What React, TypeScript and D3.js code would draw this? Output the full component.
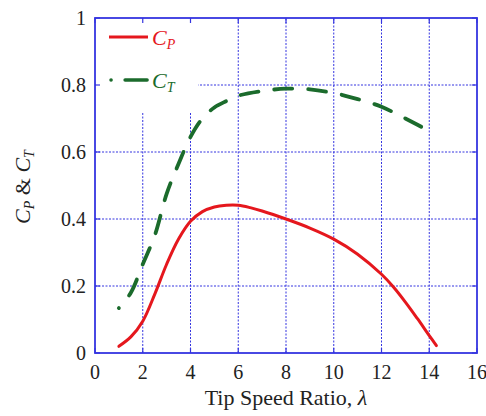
import React from "react";
import * as d3 from "d3";

const cpX = [1, 1.5, 2, 2.5, 3, 3.5, 4, 4.5, 5, 5.5, 6, 6.5, 7, 8, 9, 10, 11, 12, 12.5, 13, 13.5, 14, 14.3];
const cpY = [0.02, 0.048, 0.095, 0.175, 0.265, 0.34, 0.393, 0.422, 0.436, 0.441, 0.441, 0.434, 0.424, 0.4, 0.373, 0.34, 0.295, 0.235, 0.197, 0.152, 0.103, 0.052, 0.022];
const ctX = [1, 1.5, 2, 2.5, 3, 3.5, 4, 4.5, 5, 5.5, 6, 7, 8, 9, 10, 11, 12, 13, 14.2];
const ctY = [0.134, 0.18, 0.265, 0.35, 0.475, 0.565, 0.645, 0.7, 0.733, 0.752, 0.768, 0.782, 0.789, 0.787, 0.776, 0.758, 0.735, 0.7, 0.655];
const xTicks = [0, 2, 4, 6, 8, 10, 12, 14, 16];
const yTicks = [0, 0.2, 0.4, 0.6, 0.8, 1];
const yTickLabels = ["0", "0.2", "0.4", "0.6", "0.8", "1"];

const W = 486, H = 416;
const L = 95, R = 477, T = 18, B = 353;
const RED = "#e5171d";
const GREEN = "#1b6b2c";
const BLUE = "#3535e0";
const FONT = "Liberation Serif, serif";

export default function App() {
  const x = d3.scaleLinear().domain([0, 16]).range([L, R]);
  const y = d3.scaleLinear().domain([0, 1]).range([B, T]);
  const line = d3.line<[number, number]>().x(d => x(d[0])).y(d => y(d[1])).curve(d3.curveCatmullRom.alpha(0.5));
  const cp = cpX.map((v, i) => [v, cpY[i]] as [number, number]);
  const ct = ctX.map((v, i) => [v, ctY[i]] as [number, number]);
  const tick = 5;
  const txt = { fontFamily: FONT } as React.CSSProperties;
  return (
    <svg width={W} height={H} style={{ position: "absolute", left: 0, top: 0, background: "#fff", fontFamily: FONT }}>
      {xTicks.slice(1, -1).map(t => (
        <line key={"gx" + t} x1={x(t)} x2={x(t)} y1={y(0)} y2={y(1)} stroke={BLUE} strokeWidth={1} strokeDasharray="2,1.5" />
      ))}
      {yTicks.slice(1, -1).map(t => (
        <line key={"gy" + t} x1={x(0)} x2={x(16)} y1={y(t)} y2={y(t)} stroke={BLUE} strokeWidth={1} strokeDasharray="2,1.5" />
      ))}
      <rect x={L + 1} y={T + 1} width={102} height={93} fill="#fff" />
      {xTicks.map(t => (
        <g key={"tx" + t}>
          <line x1={x(t)} x2={x(t)} y1={B} y2={B - tick} stroke={BLUE} strokeWidth={1.2} />
          <line x1={x(t)} x2={x(t)} y1={T} y2={T + tick} stroke={BLUE} strokeWidth={1.2} />
          <text style={txt} x={x(t)} y={B + 26} fontSize={20} textAnchor="middle" fill="#222">{t}</text>
        </g>
      ))}
      {yTicks.map((t, i) => (
        <g key={"ty" + t}>
          <line x1={L} x2={L + tick} y1={y(t)} y2={y(t)} stroke={BLUE} strokeWidth={1.2} />
          <line x1={R} x2={R - tick} y1={y(t)} y2={y(t)} stroke={BLUE} strokeWidth={1.2} />
          <text style={txt} x={L - 9} y={y(t) + 7} fontSize={20} textAnchor="end" fill="#222">{yTickLabels[i]}</text>
        </g>
      ))}
      <rect x={L} y={T} width={R - L} height={B - T} fill="none" stroke={BLUE} strokeWidth={1.8} />
      <path d={line(cp) || ""} fill="none" stroke={RED} strokeWidth={3} strokeLinecap="round" />
      <path d={line(ct) || ""} fill="none" stroke={GREEN} strokeWidth={3.8} strokeLinecap="round" strokeDasharray="18,16" strokeDashoffset={17.9} />
      <line x1={109} x2={148} y1={37} y2={37} stroke={RED} strokeWidth={3} />
      <text style={txt} x={152} y={45} fill={RED} fontSize={22} fontStyle="italic">C<tspan fontSize={14} dy={4}>P</tspan></text>
      <line x1={111} x2={148} y1={80} y2={80} stroke={GREEN} strokeWidth={3.5} strokeLinecap="round" strokeDasharray="0.1,14,22,100" />
      <text style={txt} x={152} y={88} fill={GREEN} fontSize={22} fontStyle="italic">C<tspan fontSize={14} dy={4}>T</tspan></text>
      <text style={txt} x={(L + R) / 2} y={405} fontSize={22} textAnchor="middle" fill="#222">Tip Speed Ratio, <tspan fontStyle="italic">λ</tspan></text>
      <text style={txt} transform={`translate(30, 187) rotate(-90)`} fontSize={22} textAnchor="middle" fill="#222">
        <tspan fontStyle="italic">C</tspan><tspan fontSize={14} fontStyle="italic" dy={4}>P</tspan><tspan dy={-4}> &amp; </tspan><tspan fontStyle="italic">C</tspan><tspan fontSize={14} fontStyle="italic" dy={4}>T</tspan>
      </text>
    </svg>
  );
}
